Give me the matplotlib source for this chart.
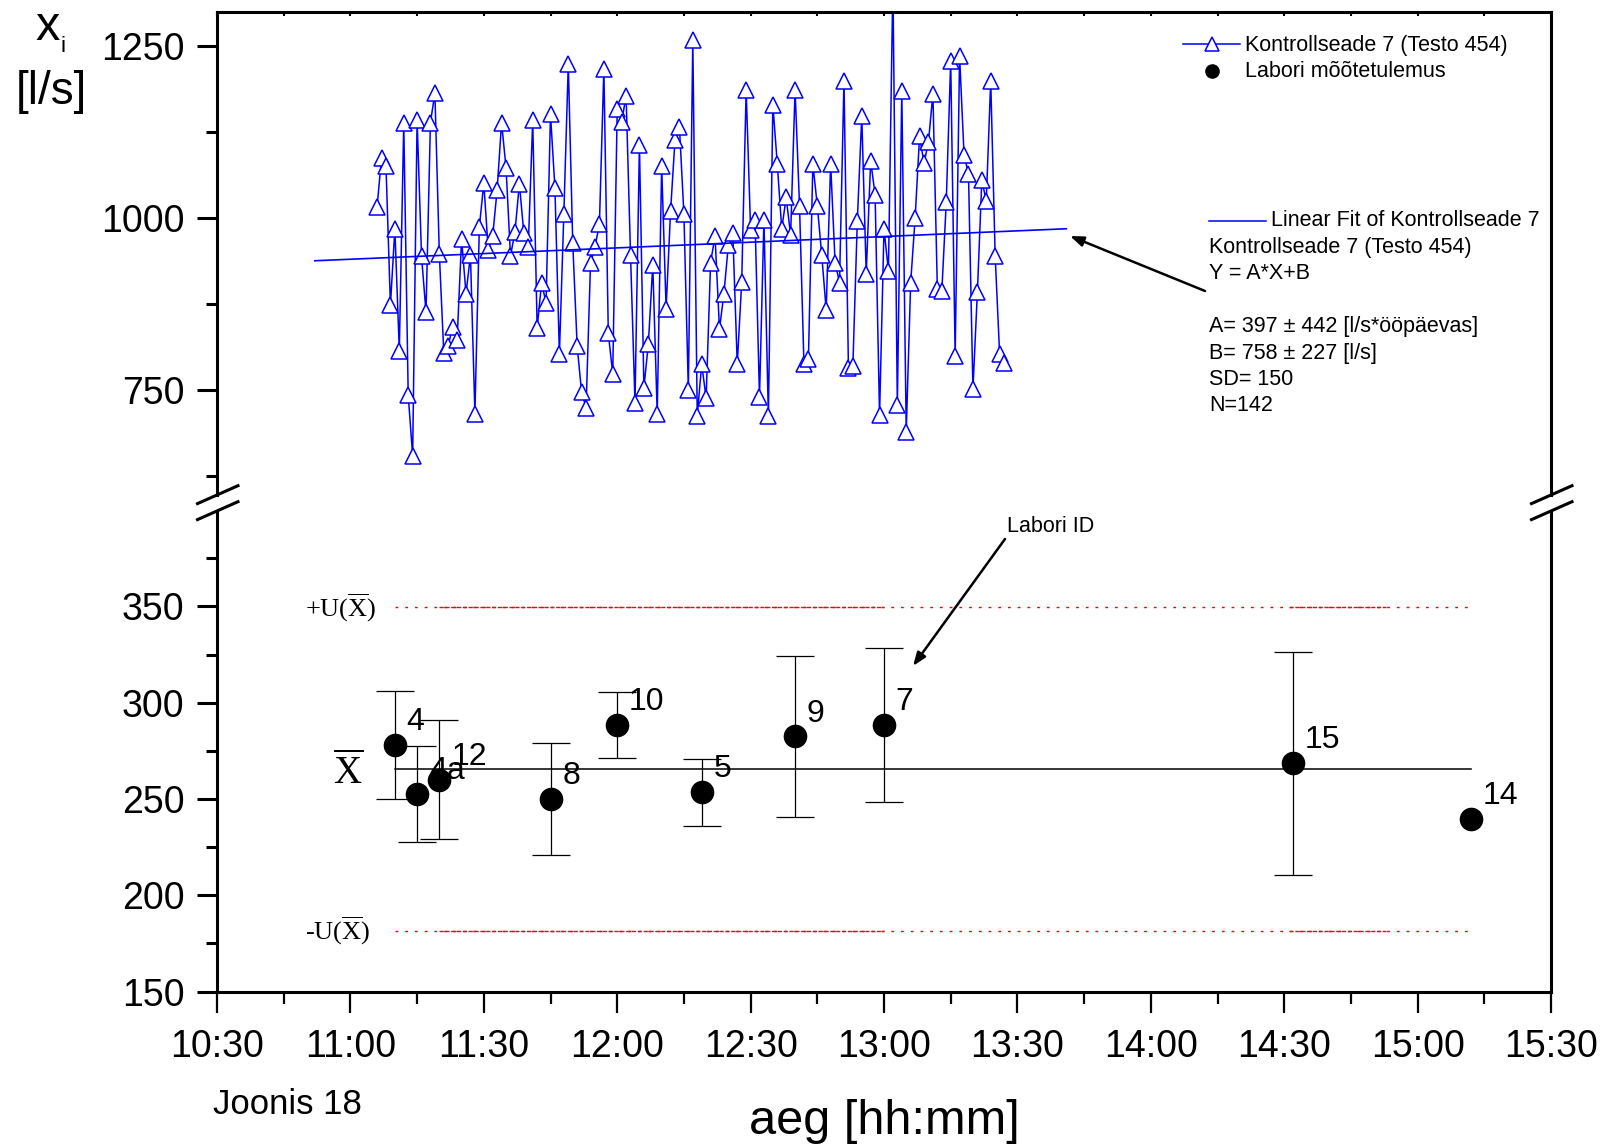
"""
Joonis 18 - Kontrollseade 7 (Testo 454) readings vs lab results, broken y-axis.
Saves out.png (1603x1146).
"""

import numpy as np
import matplotlib.pyplot as plt
from matplotlib.lines import Line2D
from matplotlib.ticker import MultipleLocator, FuncFormatter

plt.rcParams['font.family'] = ['Liberation Sans', 'DejaVu Sans']
plt.rcParams['mathtext.fontset'] = 'custom'
plt.rcParams['mathtext.rm'] = 'Liberation Serif'

# ===== Data =====
# Kontrollseade 7 readings [l/s], one per minute from 11:06
series_start = "11:06"
series_step_min = 1
series_values = [
    1016, 1088, 1076, 873, 984, 807, 1138, 742, 654, 1143,
    944, 863, 1139, 1182, 948, 804, 814, 842, 823, 969,
    890, 946, 715, 987, 1051, 953, 974, 1041, 1139, 1073,
    945, 979, 1050, 978, 958, 1142, 840, 906, 876, 1151,
    1043, 802, 1006, 1224, 964, 813, 746, 724, 934, 958,
    991, 1217, 832, 773, 1158, 1140, 1178, 946, 731, 1107,
    753, 816, 932, 715, 1075, 868, 1010, 1114, 1132, 1006,
    750, 1259, 712, 787, 738, 935, 974, 838, 890, 961,
    978, 787, 907, 1187, 983, 997, 739, 997, 711, 1165,
    1079, 984, 1030, 975, 1187, 1018, 787, 794, 1079, 1018,
    946, 866, 1079, 935, 906, 1200, 782, 785, 996, 1148,
    919, 1083, 1034, 713, 984, 923, 1345, 728, 1185, 689,
    906, 1000, 1119, 1080, 1111, 1181, 896, 893, 1023, 1229,
    799, 1236, 1092, 1064, 751, 892, 1055, 1025, 1200, 945,
    802, 789,
]

# Linear fit Y = A*X + B (X in days)
fit_A = 397
fit_B = 758
fit_range = ["10:52", "13:41"]

# Lab results
lab_ids = ["4", "4a", "12", "8", "10", "5", "9", "7", "15", "14"]
lab_times = ["11:10", "11:15", "11:20", "11:45", "12:00", "12:19", "12:40", "13:00", "14:32", "15:12"]
lab_values = [278, 252.5, 260, 250, 288.5, 253.5, 282.5, 288.5, 268.5, 239.5]
lab_errors = [28, 25, 31, 29, 17, 17.5, 42, 40, 58, np.nan]

xbar = 265.5
u_xbar = 84
u_dense = [("11:20", "13:00"), ("14:31", "14:53")]

fit_lines = ["Kontrollseade 7 (Testo 454)", "Y = A*X+B", "",
             "A= 397 \u00b1 442 [l/s*\u00f6\u00f6p\u00e4evas]",
             "B= 758 \u00b1 227 [l/s]", "SD= 150", "N=142"]


def hours(s):
    h, m = s.split(":")
    return int(h) + int(m) / 60


def hhmm(v, pos=None):
    total = int(round(v * 60))
    return f"{total // 60}:{total % 60:02d}"


# ===== Figure layout (pixel helpers) =====
W, H = 1603, 1146
fig = plt.figure(figsize=(W / 100, H / 100), dpi=100)


def fx(x):
    return x / W


def fy(y):
    return 1 - y / H


L, R = 217, 1551
ax_top = fig.add_axes([fx(L), fy(495), fx(R) - fx(L), fy(12.3) - fy(495)])
ax_bot = fig.add_axes([fx(L), fy(991.6), fx(R) - fx(L), fy(511.7) - fy(991.6)])

BLUE = "#0000ff"

# ===== Top panel: control device =====
t0 = hours(series_start)
tx = t0 + np.arange(len(series_values)) * series_step_min / 60
ax_top.plot(tx, series_values, color=BLUE, lw=1.1, marker="^", ms=11,
            mfc="white", mec=BLUE, mew=1.1)

f1, f2 = hours(fit_range[0]), hours(fit_range[1])
fit_x = np.array([f1, f2])
ax_top.plot(fit_x, fit_B + fit_A * fit_x / 24, color=BLUE, lw=1.2)

ax_top.set_xlim(10.5, 15.5)
ax_top.set_ylim(596.7, 1299.5)
ax_top.yaxis.set_major_locator(MultipleLocator(250))
ax_top.yaxis.set_minor_locator(MultipleLocator(125))

# ===== Bottom panel: lab results =====
lt = np.array([hours(s) for s in lab_times])
lv = np.array(lab_values)
le = np.array(lab_errors)

x_span = [lt[0], lt[-1]]
for sign in (1, -1):
    yv = xbar + sign * u_xbar
    ax_bot.plot(x_span, [yv, yv], color="red", lw=1.0, linestyle=(0, (2, 5)))
    for a, b in u_dense:
        ax_bot.plot([hours(a), hours(b)], [yv, yv], color="red", lw=1.0,
                    linestyle=(0, (3, 1.2)))

ax_bot.plot(x_span, [xbar, xbar], color="black", lw=1.1)
ax_bot.errorbar(lt, lv, yerr=le, fmt="o", color="black", ms=16,
                ecolor="black", elinewidth=0.9, capsize=14, capthick=0.9)
for lid, t, v in zip(lab_ids, lt, lv):
    ax_bot.annotate(lid, (t, v), xytext=(8.5, 16.5), textcoords="offset points",
                    fontsize=23, ha="left", va="center")

ax_bot.text(10.83, xbar + u_xbar, "+U($\\overline{\\mathrm{X}}$)", family="Liberation Serif",
            fontsize=19, ha="left", va="center")
ax_bot.text(10.83, xbar - u_xbar, "-U($\\overline{\\mathrm{X}}$)", family="Liberation Serif",
            fontsize=19, ha="left", va="center")
ax_bot.text(10.99, xbar - 2, "$\\overline{\\mathrm{X}}$", fontsize=28, ha="center", va="center")

ax_bot.set_xlim(10.5, 15.5)
ax_bot.set_ylim(150, 399.2)
ax_bot.yaxis.set_major_locator(MultipleLocator(50))
ax_bot.yaxis.set_minor_locator(MultipleLocator(25))

# ===== Axes styling =====
for ax in (ax_top, ax_bot):
    ax.xaxis.set_major_locator(MultipleLocator(0.5))
    ax.xaxis.set_minor_locator(MultipleLocator(0.25))
    ax.xaxis.set_major_formatter(FuncFormatter(hhmm))
    for sp in ax.spines.values():
        sp.set_linewidth(2.2)
    ax.tick_params(axis="y", which="major", direction="out", length=14.5, width=2.2,
                   labelsize=27, pad=9)
    ax.tick_params(axis="y", which="minor", direction="out", length=8, width=2.2)

ax_top.spines["bottom"].set_visible(False)
ax_bot.spines["top"].set_visible(False)
ax_top.tick_params(axis="x", which="both", bottom=False, labelbottom=False,
                   top=True, direction="in", length=3, width=1.5)
ax_bot.tick_params(axis="x", which="major", direction="out", length=15, width=1.6,
                   labelsize=27, pad=12)
ax_bot.tick_params(axis="x", which="minor", direction="out", length=8.5, width=1.6)

# Axis break marks on both sides
for xs in (L, R):
    for y0 in (0, 16):
        fig.add_artist(Line2D([fx(xs - 19.5), fx(xs + 21)],
                              [fy(503.6 + y0), fy(485.7 + y0)],
                              color="black", lw=2.2))

# ===== Legend / fit info =====
fig.add_artist(Line2D([fx(1183), fx(1240)], [fy(44), fy(44)], color=BLUE, lw=1.1))
fig.add_artist(Line2D([fx(1211.5)], [fy(44)], color=BLUE, marker="^", ms=10,
                      mfc="white", mec=BLUE, mew=1.1))
fig.text(fx(1245), fy(45), "Kontrollseade 7 (Testo 454)", fontsize=15.5,
         ha="left", va="center")
fig.add_artist(Line2D([fx(1211.5)], [fy(70.5)], color="black", marker="o", ms=9.5,
                      linestyle="none"))
fig.text(fx(1245), fy(71.5), "Labori m\u00f5\u00f5tetulemus", fontsize=15.5,
         ha="left", va="center")

fig.add_artist(Line2D([fx(1209), fx(1266)], [fy(220.5), fy(220.5)], color=BLUE, lw=1.1))
fig.text(fx(1271), fy(221), "Linear Fit of Kontrollseade 7", fontsize=15.5,
         ha="left", va="center")
for k, line in enumerate(fit_lines):
    fig.text(fx(1209), fy(247.5 + 26.4 * k), line, fontsize=15.5, ha="left", va="center")

arrow = dict(arrowstyle="-|>,head_length=0.8,head_width=0.3", color="black",
             lw=1.8, shrinkA=0, shrinkB=0)
fig.text(fx(1051), fy(526), "Labori ID", fontsize=15.5, ha="center", va="center")
ax_top.annotate("", xy=(1070, H - 236), xytext=(1205, H - 291),
                xycoords="figure pixels", textcoords="figure pixels", arrowprops=arrow)
ax_bot.annotate("", xy=(913, H - 666), xytext=(1005, H - 539),
                xycoords="figure pixels", textcoords="figure pixels", arrowprops=arrow)

# ===== Axis titles =====
fig.text(fx(48), fy(28), "x", fontsize=35, ha="center", va="center")
fig.text(fx(62.5), fy(47), "i", fontsize=16, ha="center", va="center")
fig.text(fx(51), fy(92), "[l/s]", fontsize=33, ha="center", va="center")
fig.text(fx(884), fy(1121), "aeg [hh:mm]", fontsize=35, ha="center", va="center")
fig.text(fx(213), fy(1104), "Joonis 18", fontsize=25, ha="left", va="center")

fig.savefig("out.png", dpi=100)
